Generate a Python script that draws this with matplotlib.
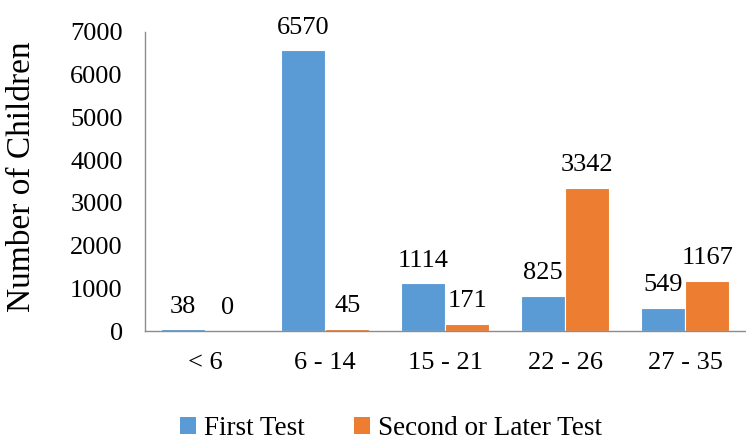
import numpy as np
import matplotlib
matplotlib.use("Agg")
import matplotlib.pyplot as plt
from matplotlib.patches import Patch

plt.rcParams['font.family'] = ['Liberation Serif', 'DejaVu Serif']

# dane
kategorie = ["< 6", "6 - 14", "15 - 21", "22 - 26", "27 - 35"]
pierwszy_test = [38, 6570, 1114, 825, 549]
kolejny_test = [0, 45, 171, 3342, 1167]
serie = ["First Test", "Second or Later Test"]
kolory = ["#5B9BD5", "#ED7D31"]

fig = plt.figure(figsize=(7.46, 4.40), dpi=100)
ax = fig.add_axes([145 / 746, 1 - 331 / 440, 600 / 746, 299 / 440])

x = np.arange(len(kategorie))
szer = 0.37
for i, (wartosci, kolor) in enumerate(zip([pierwszy_test, kolejny_test], kolory)):
    poz = x + (i - 0.5) * szer
    ax.bar(poz, wartosci, width=szer, color=kolor, edgecolor="white", linewidth=0.8)
    for px, v in zip(poz, wartosci):
        ax.annotate(str(v), (px, v), xytext=(0, 8.5), textcoords="offset points",
                    ha="center", va="bottom", fontsize=19)

ax.set_xlim(-0.5, len(kategorie) - 0.5)
ax.set_ylim(0, 7000)
ax.set_yticks(range(0, 7001, 1000))
ax.set_xticks(x)
ax.set_xticklabels(kategorie)
ax.tick_params(axis="both", length=0, labelsize=19)
ax.tick_params(axis="y", pad=16)
ax.tick_params(axis="x", pad=15)
for s in ["top", "right"]:
    ax.spines[s].set_visible(False)
for s in ["left", "bottom"]:
    ax.spines[s].set_color("#8c8c8c")
    ax.spines[s].set_linewidth(1.0)

ax.set_ylabel("Number of Children", fontsize=24)
ax.yaxis.set_label_coords(-0.18, 0.515)

uchwyty = [Patch(facecolor=k) for k in kolory]
fig.legend(uchwyty, serie, loc="lower center", bbox_to_anchor=(391 / 746, -0.058),
           ncol=2, frameon=False, fontsize=19.5, handlelength=0.6, handleheight=0.6,
           handletextpad=0.3, columnspacing=1.8)

fig.savefig("out.png", dpi=100)
